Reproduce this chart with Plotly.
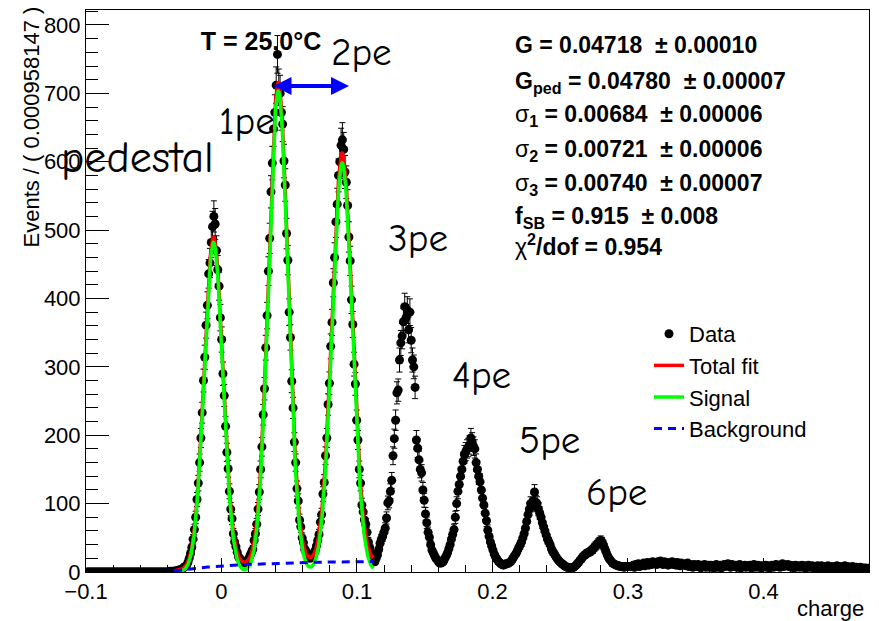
import numpy as np
import plotly.graph_objects as go

# ---- binned charge spectrum ----
bin_width = 0.000958147
x_low = -0.1

counts = [
    0, 0, 0, 0, 0, 0, 0, 0, 0, 0,
    0, 0, 0, 0, 0, 0, 0, 0, 0, 0,
    0, 0, 0, 0, 0, 0, 0, 0, 0, 0,
    0, 0, 0, 0, 0, 0, 0, 0, 0, 0,
    0, 0, 0, 0, 0, 0, 0, 0, 0, 0,
    0, 0, 0, 0, 0, 0, 0, 0, 0, 0,
    0, 0, 0, 0, 1, 0, 1, 1, 1, 2,
    2, 3, 3, 4, 5, 7, 8, 10, 14, 20,
    27, 36, 48, 62, 80, 106, 130, 160, 196, 233,
    280, 314, 361, 390, 436, 452, 482, 505, 520, 509,
    470, 442, 418, 372, 340, 290, 258, 213, 175, 151,
    118, 92, 78, 56, 44, 37, 29, 22, 20, 16,
    14, 15, 13, 16, 17, 20, 25, 29, 33, 46,
    56, 70, 92, 117, 150, 183, 230, 268, 328, 375,
    440, 488, 556, 598, 648, 672, 712, 757, 709, 700,
    672, 655, 601, 566, 495, 456, 380, 343, 279, 240,
    190, 160, 122, 104, 76, 66, 50, 43, 33, 30,
    26, 24, 20, 24, 22, 28, 31, 38, 46, 55,
    73, 84, 114, 131, 170, 196, 245, 276, 330, 365,
    423, 460, 512, 538, 580, 600, 624, 632, 618, 585,
    570, 536, 490, 455, 398, 362, 304, 275, 222, 193,
    150, 130, 98, 88, 76, 70, 58, 44, 36, 28,
    22, 16, 15, 20, 25, 33, 42, 48, 52, 58,
    64, 79, 101, 104, 118, 134, 170, 195, 222, 262,
    266, 310, 335, 345, 366, 388, 372, 383, 354, 380,
    339, 310, 300, 270, 193, 181, 164, 150, 145, 120,
    105, 85, 72, 58, 51, 40, 32, 28, 24, 20,
    18, 15, 13, 13, 14, 16, 20, 24, 28, 34,
    40, 48, 55, 62, 80, 100, 118, 128, 140, 150,
    162, 172, 176, 180, 182, 186, 196, 190, 184, 180,
    160, 150, 140, 132, 120, 108, 98, 86, 75, 61,
    52, 44, 38, 32, 26, 22, 19, 16, 14, 12,
    11, 10, 11, 12, 12, 13, 14, 16, 19, 22,
    25, 28, 32, 36, 40, 44, 50, 56, 64, 74,
    84, 92, 100, 98, 104, 117, 102, 100, 92, 86,
    80, 72, 66, 60, 54, 48, 44, 40, 34, 30,
    27, 24, 21, 18, 16, 14, 12, 11, 9, 8,
    7, 7, 6, 6, 6, 7, 8, 10, 12, 14,
    17, 19, 22, 24, 25, 27, 28, 29, 30, 32,
    33, 36, 38, 40, 42, 44, 46, 44, 40, 35,
    30, 25, 21, 18, 16, 13, 12, 11, 10, 9,
    9, 8, 8, 8, 7, 8, 8, 8, 8, 8,
    8, 10, 7, 11, 9, 12, 8, 11, 10, 13,
    9, 12, 14, 10, 13, 11, 15, 12, 14, 11,
    15, 12, 16, 13, 11, 15, 12, 14, 10, 13,
    12, 15, 11, 13, 10, 14, 12, 9, 13, 11,
    10, 12, 9, 13, 8, 11, 10, 7, 11, 9,
    8, 11, 9, 6, 10, 8, 11, 7, 9, 10,
    7, 10, 8, 6, 9, 11, 7, 8, 10, 6,
    9, 11, 8, 10, 12, 9, 7, 11, 10, 8,
    10, 7, 9, 11, 6, 9, 8, 10, 7, 9,
    8, 10, 6, 9, 11, 7, 8, 10, 7, 9,
    6, 9, 8, 10, 7, 9, 6, 8, 10, 7,
    9, 11, 8, 10, 7, 9, 12, 8, 10, 9,
    11, 8, 10, 7, 9, 6, 10, 8, 9, 7,
    8, 10, 7, 9, 6, 8, 10, 7, 8, 9,
    6, 8, 7, 9, 5, 7, 9, 6, 8, 5,
    7, 9, 6, 8, 5, 7, 8, 6, 9, 7,
    5, 8, 6, 7, 9, 6, 8, 5, 7, 6,
    8, 6, 5, 7, 6, 4, 7, 5, 6, 4,
    6, 5, 4, 6,
]

# ---- fit model: three gaussian photo-electron peaks + smooth background ----
peak_means = [-0.0059, 0.0419, 0.0891]
peak_sigmas = [0.00684, 0.00721, 0.00740]
peak_amps = [482.0, 703.0, 598.0]
bkg_level = 16.0
bkg_onset = -0.040
bkg_scale = 0.050
fit_range = [-0.035, 0.112]

# ---- text ----
temperature_label = "T = 25.0°C"
peak_labels = ["pedestal", "1pe", "2pe", "3pe", "4pe", "5pe", "6pe"]
stat_lines = [
    "<b>G = 0.04718 &nbsp;± 0.00010</b>",
    "<b>G<sub>ped</sub> = 0.04780 &nbsp;± 0.00007</b>",
    "σ<b><sub>1</sub> = 0.00684 &nbsp;± 0.00006</b>",
    "σ<b><sub>2</sub> = 0.00721 &nbsp;± 0.00006</b>",
    "σ<b><sub>3</sub> = 0.00740 &nbsp;± 0.00007</b>",
    "<b>f<sub>SB</sub> = 0.915 &nbsp;± 0.008</b>",
    "χ<b><sup>2</sup>/dof = 0.954</b>",
]
x_title = "charge"
y_title = "Events / ( 0.000958147 )"

counts = np.array(counts, dtype=float)
centers = x_low + (np.arange(len(counts)) + 0.5) * bin_width
errors = np.sqrt(counts)

xf = np.linspace(fit_range[0], fit_range[1], 900)
signal = np.zeros_like(xf)
for m, s, a in zip(peak_means, peak_sigmas, peak_amps):
    signal += a * np.exp(-0.5 * ((xf - m) / s) ** 2)
background = bkg_level * (1.0 - np.exp(-(xf - bkg_onset) / bkg_scale))
total = signal + background

# ---- geometry helpers (plot area: x 86..869 px, y 10..572 px) ----
X_MIN, X_MAX = -0.1, 0.4779
Y_MIN, Y_MAX = 0.0, 821.9
L, R, T, B = 86, 869, 10, 572


def px_to_x(px):
    return X_MIN + (px - L) / (R - L) * (X_MAX - X_MIN)


def py_to_y(py):
    return Y_MIN + (B - py) / (B - T) * (Y_MAX - Y_MIN)


def paper_x(px):
    return (px - L) / (R - L)


def paper_y(py):
    return (B - py) / (B - T)


SANS = "Liberation Sans, Arial, Helvetica, sans-serif"
HAND = "Comic Sans MS, Comic Neue, Noto Sans, sans-serif"

fig = go.Figure()

# temperature caption sits underneath the data points
fig.add_trace(go.Scatter(
    x=[px_to_x(261)], y=[py_to_y(44)], mode="text",
    text=["<b>" + temperature_label + "</b>"],
    textfont=dict(family=SANS, size=25, color="black"),
    textposition="middle center", showlegend=False, hoverinfo="skip",
))

fig.add_trace(go.Scatter(
    x=centers, y=counts, mode="markers", name="Data",
    marker=dict(color="black", size=9),
    error_y=dict(type="data", array=errors, color="black", thickness=1, width=3),
))
fig.add_trace(go.Scatter(
    x=xf, y=total, mode="lines", name="Total fit",
    line=dict(color="#ff0000", width=3.5),
))
fig.add_trace(go.Scatter(
    x=xf, y=signal, mode="lines", name="Signal",
    line=dict(color="#00ff00", width=3.5),
))
fig.add_trace(go.Scatter(
    x=xf, y=background, mode="lines", name="Background",
    line=dict(color="#0000ff", width=3, dash="8px,6px"),
))

annotations = []

# photo-electron peak labels (pixel centres)
label_px = [(137, 157), (247, 121), (361, 52), (418, 238), (481, 375), (549, 440), (616, 492)]
label_size = [44, 39, 39, 39, 39, 39, 39]
for txt, (px, py), fs in zip(peak_labels, label_px, label_size):
    annotations.append(dict(
        x=px_to_x(px), y=py_to_y(py), xref="x", yref="y", text=txt,
        showarrow=False, xanchor="center", yanchor="middle",
        font=dict(family=HAND, size=fs, color="black"),
    ))

# gain arrow between the 1pe and 2pe peaks
annotations.append(dict(
    x=px_to_x(349), y=py_to_y(86), ax=px_to_x(272), ay=py_to_y(86),
    xref="x", yref="y", axref="x", ayref="y", text="",
    showarrow=True, arrowhead=2, arrowside="end+start",
    arrowwidth=4, arrowsize=0.9, arrowcolor="#0000ff",
))

# fit results
stat_py = [45, 82, 116, 150, 184, 217, 245]
for txt, py in zip(stat_lines, stat_py):
    annotations.append(dict(
        x=paper_x(513), y=paper_y(py), xref="paper", yref="paper", text=txt,
        showarrow=False, xanchor="left", yanchor="middle",
        font=dict(family=SANS, size=23, color="black"),
    ))

# axis titles (ROOT style: right/top aligned)
annotations.append(dict(
    x=paper_x(866), y=paper_y(608), xref="paper", yref="paper", text=x_title,
    showarrow=False, xanchor="right", yanchor="middle",
    font=dict(family=SANS, size=22, color="black"),
))
annotations.append(dict(
    x=paper_x(31), y=paper_y(5), xref="paper", yref="paper", text=y_title,
    showarrow=False, xanchor="center", yanchor="top", textangle=-90,
    font=dict(family=SANS, size=22, color="black"),
))

fig.update_layout(
    width=879, height=621,
    margin=dict(l=L, r=879 - R, t=T, b=621 - B),
    paper_bgcolor="white", plot_bgcolor="white",
    font=dict(family=SANS, size=22, color="black"),
    annotations=annotations,
    showlegend=True,
    legend=dict(
        x=paper_x(649), y=paper_y(313), xanchor="left", yanchor="top",
        font=dict(family=SANS, size=22, color="black"),
        bgcolor="rgba(0,0,0,0)", borderwidth=0,
    ),
)
fig.update_xaxes(
    range=[X_MIN, X_MAX], showline=True, mirror=True, linecolor="black", linewidth=1,
    ticks="inside", ticklen=14, tickwidth=1, tickcolor="black",
    tick0=0, dtick=0.1, showgrid=False, zeroline=False,
    minor=dict(ticks="inside", dtick=0.02, ticklen=7, tickcolor="black", showgrid=False),
    tickfont=dict(family=SANS, size=22, color="black"),
)
fig.update_yaxes(
    range=[Y_MIN, Y_MAX], showline=True, mirror=True, linecolor="black", linewidth=1,
    ticks="inside", ticklen=23, tickwidth=1, tickcolor="black",
    tick0=0, dtick=100, showgrid=False, zeroline=False,
    minor=dict(ticks="inside", dtick=20, ticklen=12, tickcolor="black", showgrid=False),
    tickfont=dict(family=SANS, size=22, color="black"),
)

fig.write_html("out.html")
